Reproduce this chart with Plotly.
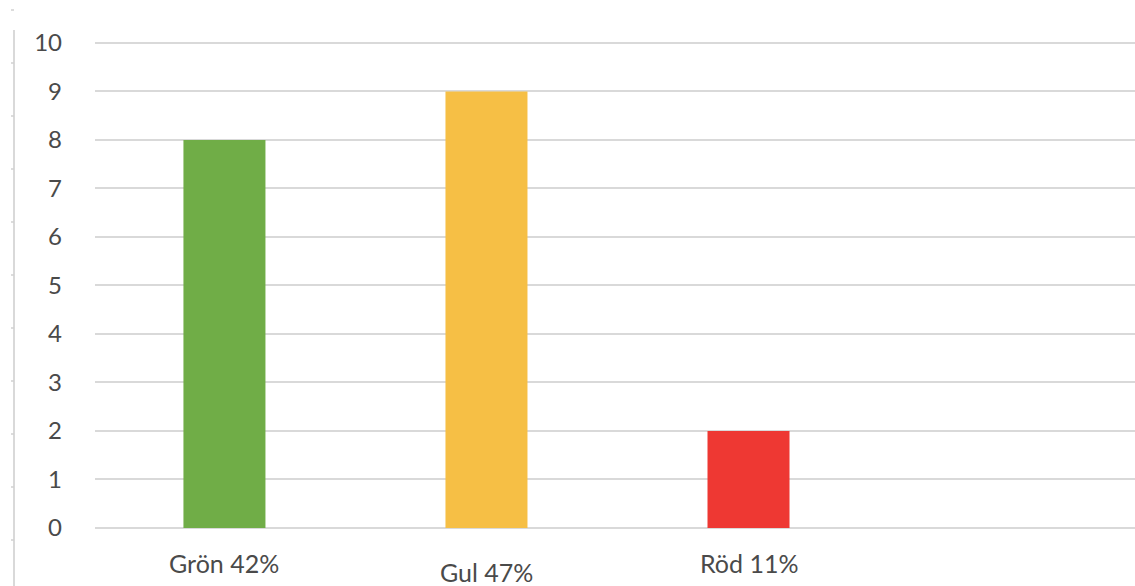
import plotly.graph_objects as go

categories = ["Grön 42%", "Gul 47%", "Röd 11%", ""]
values = [8, 9, 2, None]
colors = ["#70AD47", "#F6BF45", "#EE3833", "#FFFFFF"]
y_ticks = list(range(0, 11))

W, H = 1135, 586
ML, MR, MT, MB = 95, 0, 40, 58
FONT = "Lato"
TXT = "#4a4a4a"

xs = list(range(len(categories)))
fig = go.Figure()
fig.add_trace(go.Bar(
    x=xs, y=values, marker=dict(color=colors, line=dict(width=0)),
    width=0.313, hoverinfo="skip",
))

# category labels (Gul label sits slightly lower in the reference)
for i, lab in enumerate(categories):
    if not lab:
        continue
    fig.add_annotation(
        x=i, y=0, xref="x", yref="paper", text=lab, showarrow=False,
        yanchor="top", yshift=-(27 if lab.startswith("Gul") else 18),
        font=dict(family=FONT, size=25, color=TXT),
    )

# left fragment axis line
plot_w = W - ML - MR
plot_h = H - MT - MB
def px_to_paper_x(px):
    return (px - ML) / plot_w
def px_to_paper_y(py):
    return (H - MB - py) / plot_h

shapes = [dict(type="line", xref="paper", yref="paper",
               x0=px_to_paper_x(14), x1=px_to_paper_x(14),
               y0=px_to_paper_y(30), y1=px_to_paper_y(586),
               line=dict(color="#D9D9D9", width=2))]
for k in range(11):
    py = 10 + 53 * k
    shapes.append(dict(type="line", xref="paper", yref="paper",
                       x0=px_to_paper_x(11), x1=px_to_paper_x(14),
                       y0=px_to_paper_y(py), y1=px_to_paper_y(py),
                       line=dict(color="#D0D0D0", width=1.5)))

fig.update_layout(
    width=W, height=H,
    margin=dict(l=ML, r=MR, t=MT, b=MB),
    paper_bgcolor="white", plot_bgcolor="white",
    showlegend=False, shapes=shapes,
    xaxis=dict(range=[-0.494, 3.475], showticklabels=False, showgrid=False,
               zeroline=False, showline=False, fixedrange=True),
    yaxis=dict(range=[0, 10.06], tickvals=y_ticks, showgrid=True,
               gridcolor="#D9D9D9", gridwidth=2, zeroline=True,
               zerolinecolor="#D9D9D9", zerolinewidth=2, showline=False,
               ticklabelstandoff=32,
               tickfont=dict(family=FONT, size=24, color=TXT), fixedrange=True),
)

fig.write_html("out.html")
